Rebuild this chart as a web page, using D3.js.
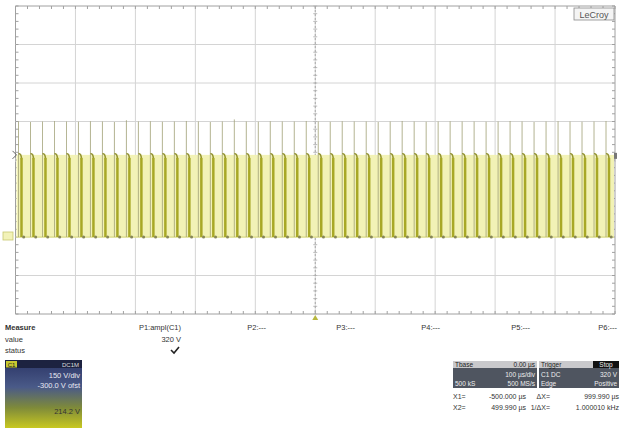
<!DOCTYPE html>
<html><head><meta charset="utf-8">
<script src="https://cdn.jsdelivr.net/npm/d3@7/dist/d3.min.js"></script>
<style>
html,body{margin:0;padding:0;background:#fff;}
svg{display:block;font-family:"Liberation Sans",Arial,sans-serif;}
</style></head>
<body>
<svg id="c" width="621" height="429"></svg>
<script>
// ---- data ----
const riseTimes = [-495,-475,-455,-435,-415,-395,-375,-355,-335,-315,-295,-275,-255,-235,-215,-195,-175,-155,-135,-115,
  -95,-75,-55,-35,-15,5,25,45,65,85,105,125,145,165,185,205,225,245,265,285,305,325,345,365,385,405,425,445,465,485]; // µs
const spikeV = [450,448,450,452,450,449,451,450,448,455,450,451,449,450,452,450,448,450,458,450,
  449,451,450,450,452,450,449,451,450,450,448,450,452,450,449,450,451,450,450,449,450,452,450,448,450,451,450,449,450,452]; // V
const highV = [320];
const lowV = [0];
const fallDelay = [5]; // µs after rise
const timeDomain = [-500, 500];   // µs, 100 µs/div
const voltDomain = [-300, 900];   // V, 150 V/div, offset -300 V
const measureLabels = ["P1:ampl(C1)","P2:---","P3:---","P4:---","P5:---","P6:---"];
const measureValues = ["320 V","","","","",""];
const rowLabels = ["Measure","value","status"];
const chanText = ["150 V/div","-300.0 V ofst","214.2 V"];
const tbText = ["Tbase","0.00 µs","100 µs/div","500 kS","500 MS/s"];
const trigText = ["Trigger","Stop","C1 DC","320 V","Edge","Positive"];
const cursorRows = [["X1=","-500.000 µs","ΔX=","999.990 µs"],["X2=","499.990 µs","1/ΔX=","1.000010 kHz"]];

const svg = d3.select("#c");
const L=15.5, R=615, T=6, B=314;
const x = d3.scaleLinear().domain(timeDomain).range([L,R]);
const y = d3.scaleLinear().domain(voltDomain).range([B,T]);

// grid
const g = svg.append("g");
const xt = d3.range(timeDomain[0], timeDomain[1]+1, 100);
const yt = d3.range(voltDomain[0], voltDomain[1]+1, 150);
g.selectAll(".vx").data(xt).join("line").attr("x1",d=>x(d)).attr("x2",d=>x(d)).attr("y1",T).attr("y2",B)
  .attr("stroke",d=>(d===timeDomain[0]||d===timeDomain[1])?"#a0a0a0":"#d4d4d4").attr("stroke-width",1);
g.selectAll(".hy").data(yt).join("line").attr("y1",d=>y(d)).attr("y2",d=>y(d)).attr("x1",L).attr("x2",R)
  .attr("stroke",d=>(d===voltDomain[0]||d===voltDomain[1])?"#a0a0a0":"#d4d4d4").attr("stroke-width",1);
// minor ticks on center lines and borders
const xm = d3.range(timeDomain[0], timeDomain[1]+0.1, 20);
const ym = d3.range(voltDomain[0], voltDomain[1]+0.1, 30);
const xc = x(0), yc = y(300);
g.selectAll(".mx").data(xm).join("line").attr("x1",d=>x(d)).attr("x2",d=>x(d)).attr("y1",yc-2).attr("y2",yc+2).attr("stroke","#bcbcbc");
g.selectAll(".my").data(ym).join("line").attr("y1",d=>y(d)).attr("y2",d=>y(d)).attr("x1",xc-2).attr("x2",xc+2).attr("stroke","#bcbcbc");
g.selectAll(".ml").data(ym).join("line").attr("y1",d=>y(d)).attr("y2",d=>y(d)).attr("x1",L).attr("x2",L+3).attr("stroke","#a0a0a0");
g.selectAll(".mr").data(ym).join("line").attr("y1",d=>y(d)).attr("y2",d=>y(d)).attr("x1",R-3).attr("x2",R).attr("stroke","#a0a0a0");
g.selectAll(".mb").data(xm).join("line").attr("x1",d=>x(d)).attr("x2",d=>x(d)).attr("y1",B-3).attr("y2",B).attr("stroke","#a0a0a0");
g.selectAll(".mt").data(xm).join("line").attr("x1",d=>x(d)).attr("x2",d=>x(d)).attr("y1",T).attr("y2",T+3).attr("stroke","#a0a0a0");
g.append("line").attr("x1",xc).attr("x2",xc).attr("y1",T).attr("y2",B).attr("stroke","#a8a8a8").attr("stroke-dasharray","2,2");

// trace
const tr = svg.append("g");
tr.append("rect").attr("x",x(timeDomain[0])+1).attr("width",x(timeDomain[1])-x(timeDomain[0])-2)
  .attr("y",y(highV[0])).attr("height",y(lowV[0])-y(highV[0])).attr("fill","#f2f2b6");
tr.append("line").attr("x1",L+1).attr("x2",R-1).attr("y1",y(lowV[0])).attr("y2",y(lowV[0])).attr("stroke","#e0e090").attr("stroke-width",1.5);
const per = riseTimes.map((r,i)=>({r, f:r+fallDelay[0], s:spikeV[i]}));
tr.selectAll(".sp").data(per).join("line").attr("x1",d=>x(d.r)).attr("x2",d=>x(d.r))
  .attr("y1",y(lowV[0])).attr("y2",d=>y(d.s)).attr("stroke","#a3a378").attr("stroke-width",0.9).attr("opacity",0.9);
tr.selectAll(".hk").data(per).join("path")
  .attr("d",d=>`M${x(d.r)},${y(highV[0])-1} Q${x(d.f)},${y(highV[0])-2} ${x(d.f)},${y(highV[0])+5}`)
  .attr("fill","none").attr("stroke","#939330").attr("stroke-width",1.5);
tr.selectAll(".fl").data(per).join("line").attr("x1",d=>x(d.f)).attr("x2",d=>x(d.f))
  .attr("y1",y(highV[0])+3).attr("y2",y(lowV[0])).attr("stroke","#a8a826").attr("stroke-width",2.5);
tr.selectAll(".dt").data(per).join("circle").attr("cx",d=>x(d.f)+2.2).attr("cy",y(lowV[0]))
  .attr("r",1.5).attr("fill","#86865a");

// markers
svg.append("rect").attr("x",3).attr("y",y(lowV[0])-5).attr("width",10).attr("height",8).attr("fill","#f2f2b8").attr("stroke","#c8c870").attr("stroke-width",0.8);
svg.append("path").attr("d",`M${L-3},${y(highV[0])-4} L${L+1},${y(highV[0])} L${L-3},${y(highV[0])+4}`).attr("fill","none").attr("stroke","#666").attr("stroke-width",1);
svg.append("path").attr("d",`M${xc-3},${B+6} L${xc},${B+1} L${xc+3},${B+6} Z`).attr("fill","#b8b840");
svg.append("rect").attr("x",R-1).attr("y",y(highV[0])-2).attr("width",3).attr("height",6).attr("fill","#777");

// LeCroy logo
svg.append("rect").attr("x",574).attr("y",8).attr("width",40).attr("height",12).attr("fill","#f4f4f4").attr("stroke","#8a8a8a").attr("stroke-width",0.8);
svg.append("text").attr("x",594).attr("y",17.5).attr("text-anchor","middle").attr("font-size",9).attr("fill","#555").text("LeCroy");

// measurement table
const mt = svg.append("g").attr("font-size",7.5).attr("fill","#333");
mt.selectAll(".rl").data(rowLabels).join("text").attr("x",5).attr("y",(d,i)=>330+i*11.5)
  .attr("font-weight",(d,i)=>i===0?"bold":"normal").attr("fill","#333").text(d=>d);
const mx = [181,266,355,440,530,617];
mt.selectAll(".pl").data(measureLabels).join("text").attr("x",(d,i)=>mx[i]).attr("y",330).attr("text-anchor","end").text(d=>d);
mt.selectAll(".pv").data(measureValues).join("text").attr("x",(d,i)=>mx[i]).attr("y",341.5).attr("text-anchor","end").text(d=>d);
mt.append("path").attr("d","M171,350 L174,353 L179,347").attr("fill","none").attr("stroke","#222").attr("stroke-width",1.6);

// channel box
const defs = svg.append("defs");
const lg = defs.append("linearGradient").attr("id","cg").attr("x1",0).attr("y1",0).attr("x2",0).attr("y2",1);
lg.append("stop").attr("offset","0%").attr("stop-color","#2b3566");
lg.append("stop").attr("offset","40%").attr("stop-color","#4a5a88");
lg.append("stop").attr("offset","70%").attr("stop-color","#7e8a3a");
lg.append("stop").attr("offset","100%").attr("stop-color","#c8c820");
svg.append("rect").attr("x",5).attr("y",360).attr("width",77).attr("height",68).attr("fill","url(#cg)");
svg.append("rect").attr("x",5).attr("y",360).attr("width",77).attr("height",8).attr("fill","#1c2240");
svg.append("rect").attr("x",6).attr("y",361).attr("width",11).attr("height",6.5).attr("fill","#c8c830");
svg.append("text").attr("x",11.5).attr("y",366.5).attr("text-anchor","middle").attr("font-size",6).attr("fill","#222").text("C1");
svg.append("text").attr("x",79).attr("y",366.5).attr("text-anchor","end").attr("font-size",6).attr("fill","#ddd").text("DC1M");
svg.selectAll(".ct").data(chanText).join("text").attr("x",80).attr("y",(d,i)=>[378,388,414][i]).attr("text-anchor","end")
  .attr("font-size",7.5).attr("fill",(d,i)=>i===2?"#333":"#e8e8f0").text(d=>d);

// timebase / trigger boxes
svg.append("rect").attr("x",453).attr("y",361).attr("width",84).attr("height",27).attr("fill","#4f5560");
svg.append("rect").attr("x",453).attr("y",361).attr("width",84).attr("height",7).attr("fill","#c9c9cc");
svg.append("rect").attr("x",539).attr("y",361).attr("width",80).attr("height",27).attr("fill","#4f5560");
svg.append("rect").attr("x",539).attr("y",361).attr("width",80).attr("height",7).attr("fill","#c9c9cc");
svg.append("rect").attr("x",593).attr("y",361).attr("width",26).attr("height",7).attr("fill","#111");
const bx = svg.append("g").attr("font-size",6.5);
bx.append("text").attr("x",455).attr("y",367).attr("fill","#222").text(tbText[0]);
bx.append("text").attr("x",535).attr("y",367).attr("text-anchor","end").attr("fill","#222").text(tbText[1]);
bx.append("text").attr("x",535).attr("y",377).attr("text-anchor","end").attr("fill","#eee").text(tbText[2]);
bx.append("text").attr("x",455).attr("y",386).attr("fill","#eee").text(tbText[3]);
bx.append("text").attr("x",535).attr("y",386).attr("text-anchor","end").attr("fill","#eee").text(tbText[4]);
bx.append("text").attr("x",541).attr("y",367).attr("fill","#222").text(trigText[0]);
bx.append("text").attr("x",606).attr("y",367).attr("text-anchor","middle").attr("fill","#eee").text(trigText[1]);
bx.append("text").attr("x",541).attr("y",377).attr("fill","#eee").text(trigText[2]);
bx.append("text").attr("x",617).attr("y",377).attr("text-anchor","end").attr("fill","#eee").text(trigText[3]);
bx.append("text").attr("x",541).attr("y",386).attr("fill","#eee").text(trigText[4]);
bx.append("text").attr("x",617).attr("y",386).attr("text-anchor","end").attr("fill","#eee").text(trigText[5]);
const cr = svg.append("g").attr("font-size",7).attr("fill","#333");
cursorRows.forEach((r,i)=>{
  const yy = 399 + i*11;
  cr.append("text").attr("x",453).attr("y",yy).text(r[0]);
  cr.append("text").attr("x",526).attr("y",yy).attr("text-anchor","end").text(r[1]);
  cr.append("text").attr("x",550).attr("y",yy).attr("text-anchor","end").text(r[2]);
  cr.append("text").attr("x",619).attr("y",yy).attr("text-anchor","end").text(r[3]);
});
</script>
</body></html>
